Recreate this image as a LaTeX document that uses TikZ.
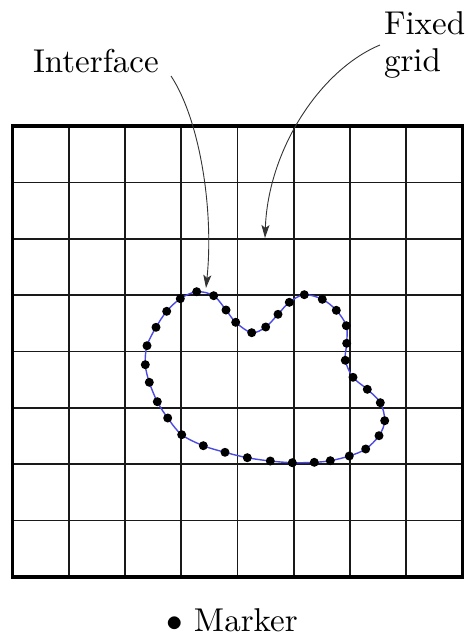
\documentclass[tikz,border=0pt]{standalone}
\usepackage{fontspec}
\usepackage{graphicx}
\usetikzlibrary{arrows.meta}
\definecolor{ifblue}{RGB}{75,75,225}
\definecolor{gridcol}{RGB}{25,25,25}
\newcommand{\bigtxt}[1]{\scalebox{3.3}{\fontsize{10}{11.2}\selectfont #1}}
\begin{document}
\begin{tikzpicture}[x=1pt,y=-1pt,
  lbl/.style={inner sep=0pt,outer sep=0pt},
  gridline/.style={draw=gridcol,line width=1.6pt},
  frame/.style={draw=black,line width=3.4pt},
  pointer/.style={draw=black!80,line width=0.9pt,-{Stealth[length=13pt,width=8pt,inset=3pt]}},
  iface/.style={draw=ifblue,line width=1.4pt},
  marker/.style={fill=black}]
\useasboundingbox (0,0) rectangle (467,636);
% grid
\foreach \i in {1,...,7}{
  \draw[gridline] ({12.5+56.25*\i},126) -- ({12.5+56.25*\i},577);
  \draw[gridline] (12.5,{126+56.375*\i}) -- (462.5,{126+56.375*\i});
}
\draw[frame] (12.5,126) rectangle (462.5,577);
% interface
\def\pts{(156,327.3) (166.7,311.3) (180.3,298.7) (196.7,291.7) (213.7,295.7) (226,310) (235.7,322.3) (251.7,332.7) (265.7,327) (278,314.3) (289.3,302.3) (304.3,294.7) (322.3,299.3) (336.3,310.3) (346.3,325.7) (346.7,343.3) (345.3,360.3) (353,377.3) (367.3,389.3) (380.3,402.7) (384.7,420.7) (379,435.7) (365.7,449) (349.3,456) (330.3,460.7) (314.3,462.3) (292.3,462.7) (270.3,461) (247.3,457.7) (225,452.3) (203.3,445.7) (181.7,434.7) (167.7,418) (157.3,401.7) (149.3,382.3) (145.3,364.7) (147,345.7)}
\draw[iface] plot[smooth cycle,tension=0.55] coordinates {\pts};
\foreach \p in {(156,327.3),(166.7,311.3),(180.3,298.7),(196.7,291.7),(213.7,295.7),(226,310),(235.7,322.3),(251.7,332.7),(265.7,327),(278,314.3),(289.3,302.3),(304.3,294.7),(322.3,299.3),(336.3,310.3),(346.3,325.7),(346.7,343.3),(345.3,360.3),(353,377.3),(367.3,389.3),(380.3,402.7),(384.7,420.7),(379,435.7),(365.7,449),(349.3,456),(330.3,460.7),(314.3,462.3),(292.3,462.7),(270.3,461),(247.3,457.7),(225,452.3),(203.3,445.7),(181.7,434.7),(167.7,418),(157.3,401.7),(149.3,382.3),(145.3,364.7),(147,345.7)}
  \fill[marker] \p circle (4.5pt);
% labels
\node[lbl,anchor=base west] (interface) at (33,73) {\bigtxt{Interface}};
\node[lbl,anchor=base west] (fixed) at (384,35) {\bigtxt{Fixed}};
\node[lbl,anchor=base west] (grid) at (384,72) {\bigtxt{grid}};
\node[lbl,anchor=base west] (legend) at (166.5,631.5) {\bigtxt{$\bullet$ Marker}};
% pointers
\coordinate (ifstart) at (171,76);
\coordinate (iftip) at (206,288);
\coordinate (fgstart) at (380,45);
\coordinate (fgtip) at (265,238);
\draw[pointer] (ifstart) .. controls (200,120) and (214,210) .. (iftip);
\draw[pointer] (fgstart) .. controls (320,70) and (268,150) .. (fgtip);
\end{tikzpicture}
\end{document}
